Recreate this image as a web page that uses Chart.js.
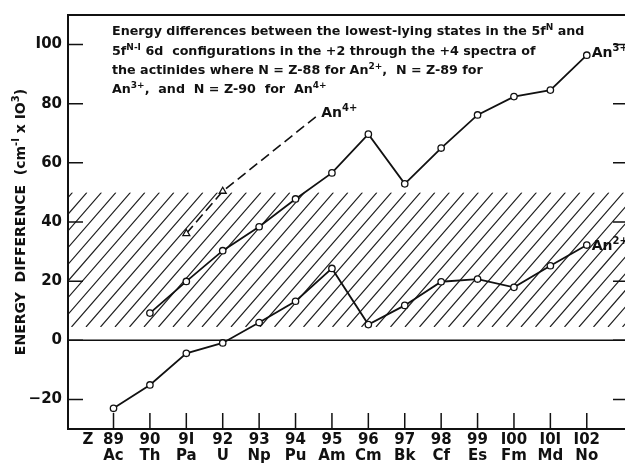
<!DOCTYPE html>
<html>
<head>
<meta charset="utf-8">
<script src="https://cdn.jsdelivr.net/npm/chart.js@4"></script>
<style>
  html, body { margin: 0; padding: 0; background: #fff; overflow: hidden; }
  #wrap { width: 625px; height: 464px; }
</style>
</head>
<body>
<div id="wrap"><canvas id="grafico"></canvas></div>
<script>
// Z e símbolos dos actinídeos
const numerosAtomicos = [89, 90, 91, 92, 93, 94, 95, 96, 97, 98, 99, 100, 101, 102];
const simbolos = ['Ac', 'Th', 'Pa', 'U', 'Np', 'Pu', 'Am', 'Cm', 'Bk', 'Cf', 'Es', 'Fm', 'Md', 'No'];

// An2+ (89-102)
const valoresAn2 = [-23, -15.1, -4.4, -0.9, 6.0, 13.2, 24.3, 5.3, 11.8, 19.8, 20.7, 17.9, 25.2, 32.2];
// An3+ (90-102)
const zAn3 = [90, 91, 92, 93, 94, 95, 96, 97, 98, 99, 100, 101, 102];
const valoresAn3 = [9.2, 19.9, 30.3, 38.4, 47.8, 56.6, 69.7, 52.9, 65.0, 76.2, 82.4, 84.6, 96.4];
// An4+ (dois pontos e a extrapolação tracejada)
const zAn4 = [91, 92, 94.65];
const valoresAn4 = [36.1, 50.4, 76.5];

const ticksY = [-20, 0, 20, 40, 60, 80, 100];
const faixaHachurada = [4.5, 50];

const FONTE = "'DejaVu Sans', sans-serif";

function pontos(xs, ys) {
    return xs.map((x, i) => ({ x: x, y: ys[i] }));
}

// texto com sobrescritos: partes = [[texto, ehSobrescrito], ...]
function larguraRica(ctx, partes, tam, tamSup) {
    let w = 0;
    partes.forEach(p => {
        ctx.font = 'bold ' + (p[1] ? tamSup : tam) + 'px ' + FONTE;
        w += ctx.measureText(p[0]).width;
    });
    return w;
}

function desenharRico(ctx, partes, x, y, tam, tamSup, subida) {
    let cx = x;
    ctx.textBaseline = 'alphabetic';
    ctx.textAlign = 'left';
    partes.forEach(p => {
        ctx.font = 'bold ' + (p[1] ? tamSup : tam) + 'px ' + FONTE;
        ctx.fillText(p[0], cx, p[1] ? y - subida : y);
        cx += ctx.measureText(p[0]).width;
    });
}

const tituloLinhas = [
    [['Energy differences between the lowest-lying states in the 5f', 0], ['N', 1], [' and', 0]],
    [['5f', 0], ['N-I', 1], [' 6d  configurations in the +2 through the +4 spectra of', 0]],
    [['the actinides where N = Z-88 for An', 0], ['2+', 1], [',  N = Z-89 for', 0]],
    [['An', 0], ['3+', 1], [',  and  N = Z-90  for  An', 0], ['4+', 1]]
];

const pluginDesenho = {
    id: 'desenho',
    beforeDatasetsDraw(chart) {
        const ctx = chart.ctx;
        const a = chart.chartArea;
        const sx = chart.scales.x;
        const sy = chart.scales.y;
        ctx.save();

        // hachura
        const yt = sy.getPixelForValue(faixaHachurada[1]);
        const yb = sy.getPixelForValue(faixaHachurada[0]);
        ctx.beginPath();
        ctx.rect(a.left, yt, a.right - a.left, yb - yt);
        ctx.clip();
        ctx.strokeStyle = '#222';
        ctx.lineWidth = 1.2;
        const run = (yb - yt) / 1.15;
        ctx.beginPath();
        for (let x0 = a.left + 3.5 - 14.5 * 10; x0 < a.right + 20; x0 += 14.5) {
            ctx.moveTo(x0, yb);
            ctx.lineTo(x0 + run, yt);
        }
        ctx.stroke();
        ctx.restore();

        ctx.save();
        ctx.strokeStyle = '#111';
        // linha do zero
        const y0 = sy.getPixelForValue(0);
        ctx.lineWidth = 1.6;
        ctx.beginPath();
        ctx.moveTo(a.left, y0);
        ctx.lineTo(a.right, y0);
        ctx.stroke();

        // moldura
        ctx.lineWidth = 2;
        ctx.beginPath();
        ctx.moveTo(a.right, a.top);
        ctx.lineTo(a.left, a.top);
        ctx.lineTo(a.left, a.bottom);
        ctx.lineTo(a.right, a.bottom);
        ctx.stroke();

        // marcas para dentro
        ctx.lineWidth = 1.5;
        ctx.beginPath();
        ticksY.forEach(v => {
            const py = sy.getPixelForValue(v);
            ctx.moveTo(a.left, py);
            ctx.lineTo(a.left + 15, py);
            ctx.moveTo(a.right - 12, py);
            ctx.lineTo(a.right, py);
        });
        numerosAtomicos.forEach(v => {
            const px = sx.getPixelForValue(v);
            ctx.moveTo(px, a.bottom);
            ctx.lineTo(px, a.bottom - 16);
        });
        ctx.stroke();
        ctx.restore();
    },
    afterDraw(chart) {
        const ctx = chart.ctx;
        const sx = chart.scales.x;
        const sy = chart.scales.y;
        ctx.save();
        ctx.fillStyle = '#111';

        // texto do título dentro do gráfico
        const bases = [35, 54.5, 74, 93];
        tituloLinhas.forEach((linha, i) => {
            desenharRico(ctx, linha, 112, bases[i], 12.7, 9, 5);
        });

        // rótulos das séries
        const ult = numerosAtomicos.length - 1;
        desenharRico(ctx, [['An', 0], ['3+', 1]], sx.getPixelForValue(102) + 5, sy.getPixelForValue(valoresAn3[valoresAn3.length - 1]) + 2, 14, 10, 6);
        desenharRico(ctx, [['An', 0], ['2+', 1]], sx.getPixelForValue(102) + 5, sy.getPixelForValue(valoresAn2[ult]) + 5, 14, 10, 6);
        desenharRico(ctx, [['An', 0], ['4+', 1]], sx.getPixelForValue(zAn4[2]) + 2, sy.getPixelForValue(valoresAn4[2]) + 3, 14, 10, 6);

        // Z no eixo x
        ctx.font = 'bold 15px ' + FONTE;
        ctx.textAlign = 'center';
        ctx.textBaseline = 'middle';
        ctx.fillText('Z', sx.getPixelForValue(88.3), 440);

        // título do eixo y (vertical)
        const partesY = [['ENERGY  DIFFERENCE  (cm', 0], ['-I', 1], [' x IO', 0], ['3', 1], [')', 0]];
        const w = larguraRica(ctx, partesY, 14, 10);
        ctx.translate(25, 222);
        ctx.rotate(-Math.PI / 2);
        desenharRico(ctx, partesY, -w / 2, 0, 14, 10, 6);
        ctx.restore();
    }
};

const ctx = document.getElementById('grafico').getContext('2d');

const grafico = new Chart(ctx, {
    type: 'scatter',
    data: {
        datasets: [
            {
                label: 'An2+',
                data: pontos(numerosAtomicos, valoresAn2),
                showLine: true,
                borderColor: '#111',
                borderWidth: 1.8,
                pointRadius: 3.2,
                pointBackgroundColor: '#fff',
                pointBorderColor: '#111',
                pointBorderWidth: 1.3
            },
            {
                label: 'An3+',
                data: pontos(zAn3, valoresAn3),
                showLine: true,
                borderColor: '#111',
                borderWidth: 1.8,
                pointRadius: 3.2,
                pointBackgroundColor: '#fff',
                pointBorderColor: '#111',
                pointBorderWidth: 1.3
            },
            {
                label: 'An4+',
                data: pontos(zAn4, valoresAn4),
                showLine: true,
                borderColor: '#111',
                borderWidth: 1.6,
                borderDash: [10, 5],
                pointStyle: 'triangle',
                pointRadius: [4, 4, 0],
                pointBackgroundColor: '#fff',
                pointBorderColor: '#111',
                pointBorderWidth: 1.3
            }
        ]
    },
    options: {
        responsive: true,
        maintainAspectRatio: false,
        animation: false,
        layout: { autoPadding: false, padding: { top: 12, right: 0, left: 0, bottom: 0 } },
        plugins: {
            legend: { display: false },
            tooltip: { enabled: false }
        },
        scales: {
            x: {
                type: 'linear',
                min: 87.75,
                max: 103.05,
                grid: { display: false, drawTicks: false },
                border: { display: false },
                afterBuildTicks: scale => {
                    scale.ticks = numerosAtomicos.map(v => ({ value: v }));
                },
                afterFit: scale => { scale.height = 35; },
                ticks: {
                    autoSkip: false,
                    maxRotation: 0,
                    padding: 3,
                    color: '#111',
                    font: { family: "'DejaVu Sans', sans-serif", size: 15, weight: 'bold', lineHeight: 1.08 },
                    callback: v => {
                        const i = numerosAtomicos.indexOf(v);
                        return [String(v).replace(/1/g, 'I'), simbolos[i]];
                    }
                }
            },
            y: {
                min: -30,
                max: 110,
                grid: { display: false, drawTicks: false },
                border: { display: false },
                afterBuildTicks: scale => {
                    scale.ticks = ticksY.map(v => ({ value: v }));
                },
                afterFit: scale => { scale.width = 68; },
                ticks: {
                    padding: 6,
                    color: '#111',
                    font: { family: "'DejaVu Sans', sans-serif", size: 15, weight: 'bold' },
                    callback: v => (v < 0 ? '\u2212' + Math.abs(v) : String(v)).replace(/1/g, 'I')
                }
            }
        }
    },
    plugins: [pluginDesenho]
});
</script>
</body>
</html>
